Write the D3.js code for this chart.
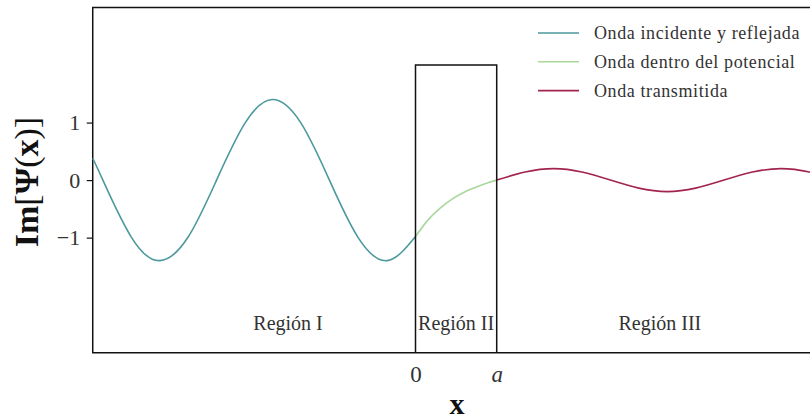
<!DOCTYPE html>
<html>
<head>
<meta charset="utf-8">
<script src="https://cdn.jsdelivr.net/npm/d3@7"></script>
<style>
  html, body { margin: 0; padding: 0; background: #fff; }
  svg { display: block; }
</style>
</head>
<body>
<svg id="chart" width="810" height="420"></svg>
<script>
// Imaginary part of the wave function across a rectangular potential barrier (0 < x < a).

// Region I: incident + reflected wave
const incidentX = [-3.975, -3.85, -3.5, -3.15, -2.8, -2.45, -2.1, -1.76, -1.41, -1.06, -0.71, -0.35, 0.0];
const incidentY = [0.38, 0.0, -0.99, -1.40, -0.99, 0.0, 0.99, 1.40, 0.99, 0.0, -0.99, -1.40, -0.98];

// Region II: wave inside the barrier
const insideX = [0.0, 0.15, 0.3, 0.45, 0.6, 0.75, 0.9, 1.0];
const insideY = [-0.98, -0.70, -0.49, -0.33, -0.21, -0.12, -0.04, 0.0];

// Region III: transmitted wave
const transX = [1.0, 1.35, 1.7, 2.05, 2.4, 2.75, 3.1, 3.45, 3.8, 4.15, 4.5, 4.85, 5.2];
const transY = [0.0, 0.14, 0.20, 0.14, 0.0, -0.14, -0.20, -0.14, 0.0, 0.14, 0.20, 0.14, 0.0];

// Barrier: from x = 0 to x = a, height V0
const barrierX = [0, 1];
const barrierHeight = 2;

const yTicks = [-1, 0, 1];
const xTicks = [0, 1];
const xTickLabels = ["0", "a"];

const seriesNames = ["Onda incidente y reflejada", "Onda dentro del potencial", "Onda transmitida"];
const seriesColors = ["#4c999c", "#a9d79d", "#a3234f"];

const regionNames = ["Región I", "Región II", "Región III"];
const regionX = [-1.57, 0.5, 3.01];
const regionY = -2.48;

const FONT = "'Liberation Serif'";

const svg = d3.select("#chart");
const plotTop = 7.5, plotBottom = 352.7;
const pxPerUnit = 81.2, originX = 415.5;

const x = d3.scaleLinear().domain([-3.975, 5]).range([originX - 3.975 * pxPerUnit, originX + 5 * pxPerUnit]);
const y = d3.scaleLinear().domain([-3, 3]).range([plotBottom, plotTop]);
const [plotLeft, plotRight] = x.range();

// Frame (left, top, bottom)
svg.append("path")
  .attr("d", `M${plotRight},${plotTop}H${plotLeft}V${plotBottom}H${plotRight}`)
  .attr("fill", "none")
  .attr("stroke", "#111")
  .attr("stroke-width", 1.5)
  .attr("stroke-linecap", "square");

// Curves
const line = d3.line().x(d => x(d[0])).y(d => y(d[1])).curve(d3.curveNatural);
const series = [
  d3.zip(incidentX, incidentY),
  d3.zip(insideX, insideY),
  d3.zip(transX, transY)
];
series.forEach((pts, i) => {
  svg.append("path")
    .attr("d", line(pts))
    .attr("fill", "none")
    .attr("stroke", seriesColors[i])
    .attr("stroke-width", 1.6);
});

// Barrier outline
svg.append("path")
  .attr("d", `M${x(barrierX[0])},${y(-3)}V${y(barrierHeight)}H${x(barrierX[1])}V${y(-3)}`)
  .attr("fill", "none")
  .attr("stroke", "#111")
  .attr("stroke-width", 1.5);

// Y axis
const yAxis = d3.axisLeft(y).tickValues(yTicks).tickSize(6).tickPadding(6.5).tickFormat(d3.format("d"));
const gy = svg.append("g").attr("transform", `translate(${plotLeft},0)`).call(yAxis)
  .attr("font-family", FONT);
gy.select(".domain").remove();
gy.selectAll(".tick line").attr("stroke", "#111").attr("stroke-width", 1.2);
gy.selectAll(".tick text").attr("font-size", 22).attr("fill", "#333")
  .attr("font-family", FONT);

// X axis
const xAxis = d3.axisBottom(x).tickValues(xTicks).tickSize(0).tickPadding(13)
  .tickFormat((d, i) => xTickLabels[i]);
const gx = svg.append("g").attr("transform", `translate(0,${plotBottom})`).call(xAxis)
  .attr("font-family", FONT);
gx.select(".domain").remove();
gx.selectAll(".tick text").attr("font-size", 23).attr("fill", "#333")
  .attr("font-family", FONT)
  .attr("font-style", (d, i) => i === 1 ? "italic" : "normal");

// Axis titles
svg.append("text")
  .attr("x", (plotLeft + plotRight) / 2).attr("y", 414)
  .attr("text-anchor", "middle")
  .attr("font-family", FONT)
  .attr("font-size", 30).attr("font-weight", "bold").attr("fill", "#111")
  .text("x");

const yl = svg.append("text")
  .attr("transform", `translate(38,182) rotate(-90)`)
  .attr("text-anchor", "middle")
  .attr("font-family", FONT)
  .attr("font-size", 34).attr("fill", "#111");
yl.append("tspan").attr("font-weight", "bold").text("Im");
yl.append("tspan").text("[");
yl.append("tspan").attr("font-weight", "bold").text("Ψ");
yl.append("tspan").text("(");
yl.append("tspan").attr("font-weight", "bold").text("x");
yl.append("tspan").text(")]");

// Region labels
svg.append("g").selectAll("text").data(regionNames).join("text")
  .attr("x", (d, i) => x(regionX[i]))
  .attr("y", y(regionY))
  .attr("dy", "0.35em")
  .attr("text-anchor", "middle")
  .attr("font-family", FONT)
  .attr("font-size", 20).attr("fill", "#333")
  .text(d => d);

// Legend
const legend = svg.append("g").attr("transform", "translate(538,33)");
const items = legend.selectAll("g").data(seriesNames).join("g")
  .attr("transform", (d, i) => `translate(0,${i * 28.8})`);
items.append("line").attr("x1", 0).attr("x2", 41).attr("y1", 0).attr("y2", 0)
  .attr("stroke", (d, i) => seriesColors[i]).attr("stroke-width", 1.6);
items.append("text").attr("x", 56).attr("y", 0).attr("dy", "0.33em")
  .attr("font-family", FONT)
  .attr("font-size", 18).attr("letter-spacing", 0.6).attr("fill", "#333")
  .text(d => d);
</script>
</body>
</html>
